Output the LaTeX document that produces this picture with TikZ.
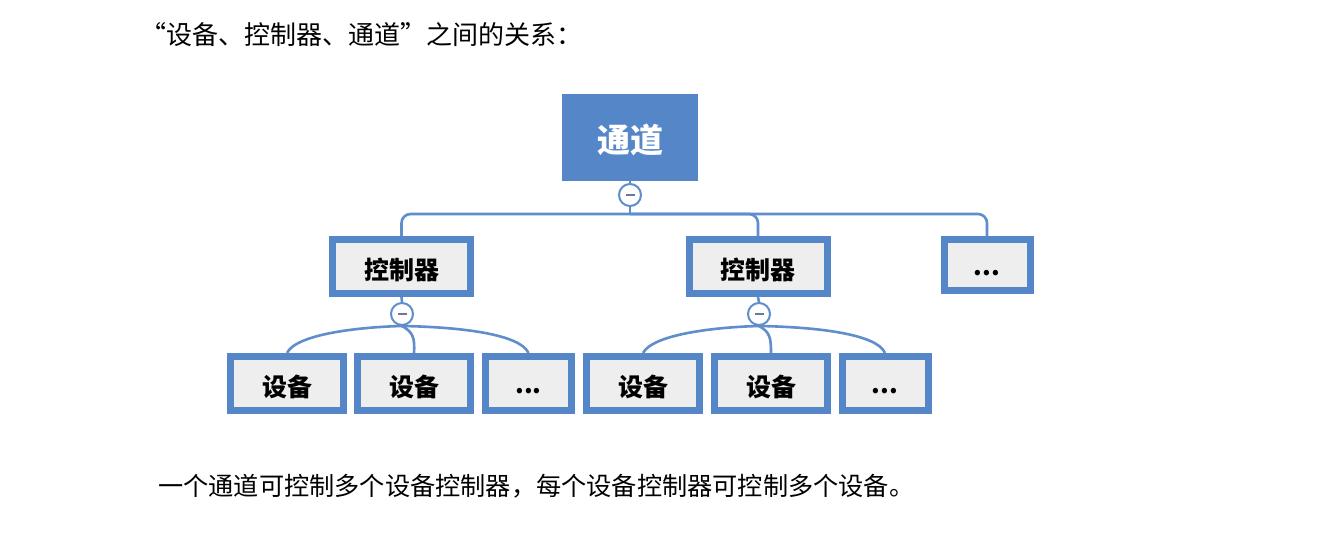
\documentclass[tikz,border=0pt]{standalone}
\usepackage{fontspec}
\newfontfamily\cjk{Noto Sans CJK SC}
\definecolor{boxblue}{RGB}{84,134,200}
\definecolor{lineblue}{RGB}{96,142,204}
\definecolor{boxgray}{RGB}{238,238,238}
\definecolor{minusgray}{RGB}{110,120,150}
\tikzset{
  topbox/.style={fill=boxblue, draw=none, minimum width=136pt, minimum height=87pt, inner sep=0pt,
    text=white, font=\cjk\bfseries\fontsize{33}{38}\selectfont, text height=33pt, text depth=2pt},
  framebox/.style={draw=boxblue, line width=7pt, fill=boxgray, minimum height=54pt, inner sep=0pt,
    font=\cjk\bfseries\fontsize{25}{30}\selectfont, text height=27pt, text depth=2pt},
  ctrlbox/.style={framebox, minimum width=138pt},
  devbox/.style={framebox, minimum width=113pt},
  dotbox/.style={framebox, minimum width=86pt, text height=22pt, text depth=2pt},
  collapse/.style={circle, draw=lineblue, line width=2pt, fill=white, minimum size=22pt, inner sep=0pt,
    path picture={\draw[minusgray, line width=2.4pt] ([xshift=-4.5pt]path picture bounding box.center) -- ([xshift=4.5pt]path picture bounding box.center);}},
  conn/.style={draw=lineblue, line width=2.6pt},
  plain/.style={anchor=west, inner sep=0pt, font=\cjk\fontsize{26}{30}\selectfont}
}
\begin{document}
\begin{tikzpicture}[x=1pt,y=-1pt]
\useasboundingbox[fill=white] (0,0) rectangle (1337,548);

\node[plain] (title) at (140,35) {“设备、控制器、通道”之间的关系：};
\node[plain, font=\cjk\fontsize{25.2}{28}\selectfont] (note) at (158,486) {一个通道可控制多个设备控制器，每个设备控制器可控制多个设备。};

\node[topbox] (chan) at (630,137.5) {通道};
\node[collapse] (c0) at (630,195) {};

\node[ctrlbox] (k1) at (401.5,266.5) {控制器};
\node[ctrlbox] (k2) at (758,266.5) {控制器};
\node[dotbox, minimum height=51pt] (k3) at (987,265) {...};

\node[collapse] (c1) at (402,314) {};
\node[collapse] (c2) at (759,314) {};

\node[devbox] (d1) at (287,383.5) {设备};
\node[devbox] (d2) at (414,383.5) {设备};
\node[dotbox] (d3) at (528.5,383.5) {...};
\node[devbox] (d4) at (643,383.5) {设备};
\node[devbox] (d5) at (771,383.5) {设备};
\node[dotbox] (d6) at (885,383.5) {...};

\coordinate (h) at (630,214);

\draw[conn] (chan.south) -- (c0.north);
\draw[conn] (c0.south) -- (h);
\draw[conn, rounded corners=9pt] (h) -| (k1.north);
\draw[conn, rounded corners=9pt] (h) -| (k2.north);
\draw[conn, rounded corners=9pt] (h) -| (k3.north);

\draw[conn] (k1.south) -- (c1.north);
\draw[conn] (k2.south) -- (c2.north);

\draw[conn] (c1.south) .. controls (360,327) and (296,334) .. (d1.north);
\draw[conn] (c1.south) .. controls (413,332) and (415,338) .. (d2.north);
\draw[conn] (c1.south) .. controls (460,327) and (520,334) .. (d3.north);

\draw[conn] (c2.south) .. controls (717,327) and (653,334) .. (d4.north);
\draw[conn] (c2.south) .. controls (770,332) and (771,338) .. (d5.north);
\draw[conn] (c2.south) .. controls (817,327) and (877,334) .. (d6.north);
\end{tikzpicture}
\end{document}
